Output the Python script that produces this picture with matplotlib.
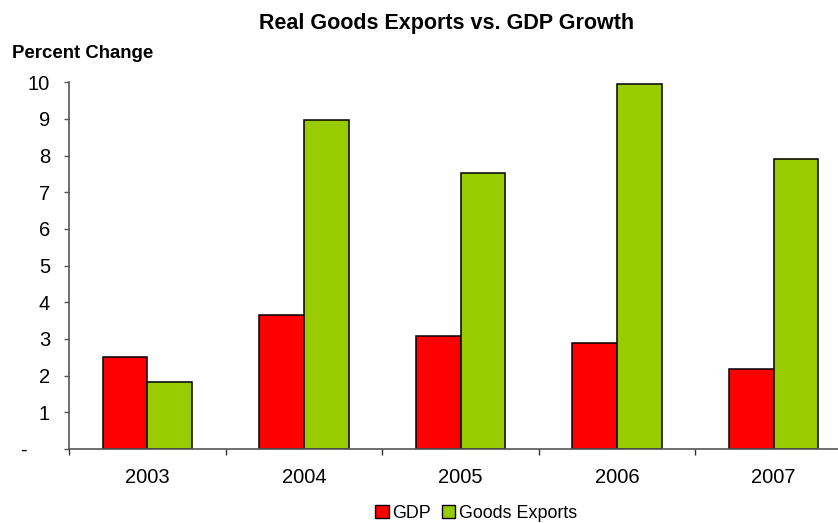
import numpy as np
import matplotlib.pyplot as plt
from matplotlib.patches import Patch

plt.rcParams['font.family'] = ['Liberation Sans', 'DejaVu Sans']

# data
years = ['2003', '2004', '2005', '2006', '2007']
gdp = [2.51, 3.65, 3.07, 2.88, 2.18]
exports = [1.83, 8.97, 7.52, 9.95, 7.90]

fig = plt.figure(figsize=(8.38, 5.23), dpi=100)
# the plot area runs a bit past the right edge, like the original
ax = fig.add_axes([69 / 838, 1 - 449 / 523, 783 / 838, (449 - 82.3) / 523])

x = np.arange(len(years))
w = 0.285
ax.bar(x - w / 2, gdp, w, color='#FF0000', edgecolor='black', linewidth=1.1, label='GDP')
ax.bar(x + w / 2, exports, w, color='#99CC00', edgecolor='black', linewidth=1.1, label='Goods Exports')

ax.set_xlim(-0.5, len(years) - 0.5)
ax.set_ylim(0, 10)

ax.set_yticks(range(0, 11))
ax.set_yticklabels(['-' + ' ' * 4] + [str(i) for i in range(1, 11)], fontsize=14.5)
ax.tick_params(axis='y', direction='out', length=3.6, width=1, color='#555555', pad=10)

ax.set_xticks(x)
ax.set_xticklabels(years, fontsize=14.5)
ax.tick_params(axis='x', which='major', length=0, pad=14)
ax.set_xticks(np.arange(-0.5, len(years)), minor=True)
ax.tick_params(axis='x', which='minor', direction='out', length=4, width=1, color='#333333')

for s in ['top', 'right']:
    ax.spines[s].set_visible(False)
for s in ['left', 'bottom']:
    ax.spines[s].set_color('#555555')
    ax.spines[s].set_linewidth(1.2)

fig.text(447 / 838, 1 - 23 / 523, 'Real Goods Exports vs. GDP Growth', ha='center', va='center',
         fontsize=15.5, fontweight='bold')
fig.text(12 / 838, 1 - 53 / 523, 'Percent Change', ha='left', va='center',
         fontsize=13.4, fontweight='bold')

handles = [Patch(facecolor='#FF0000', edgecolor='black'),
           Patch(facecolor='#99CC00', edgecolor='black')]
fig.legend(handles, ['GDP', 'Goods Exports'], loc='center', bbox_to_anchor=(476 / 838, 1 - 513 / 523),
           ncol=2, frameon=False, fontsize=12.9, handlelength=0.75, handleheight=0.75,
           handletextpad=0.2, columnspacing=0.6, borderpad=0)

fig.savefig('out.png', dpi=100)
